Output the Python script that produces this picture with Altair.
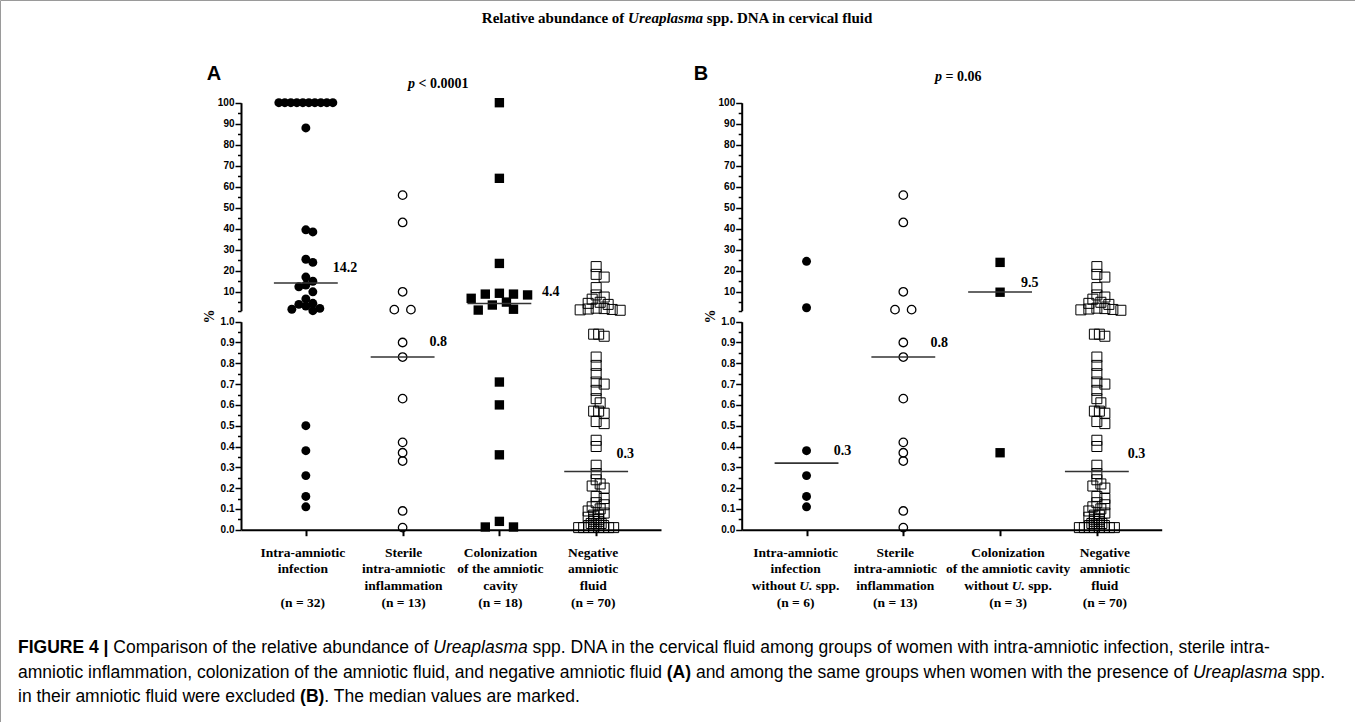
import altair as alt
import pandas as pd

W, H = 1355, 722

# ---------------- data ----------------
A_INFECTION = [100] * 10 + [88, 39.5, 38.5, 25.5, 24, 17, 15, 13.2, 12.4, 10, 6.6,
                            4.5, 4.0, 3.2, 2.1, 1.7, 1.0, 0.5, 0.38, 0.26, 0.16, 0.11]
STERILE = [56, 43, 10, 1.5, 1.5, 0.9, 0.83, 0.63, 0.42, 0.37, 0.33, 0.09, 0.01]
A_COLONIZATION = [100, 64, 23.5, 9.3, 8.9, 8.9, 8.5, 6.9, 5.1, 3.7, 1.7, 1.3,
                  0.71, 0.6, 0.36, 0.04, 0.013, 0.013]
NEGATIVE_UPPER = [22, 18.3, 17, 12, 8.5, 7.5, 6.5, 5, 4.5, 4, 2.2, 2, 1.8, 1.6, 1.4, 1.2]
NEGATIVE_MID = [0.94, 0.94, 0.93, 0.83, 0.79, 0.75, 0.71, 0.70, 0.67, 0.63, 0.61,
                0.57, 0.57, 0.56, 0.52, 0.51, 0.43, 0.40, 0.31]
NEGATIVE_LOW = [0.27, 0.24, 0.22, 0.21, 0.20, 0.16, 0.15, 0.13, 0.12, 0.11, 0.10,
                0.09, 0.08, 0.07, 0.07, 0.06, 0.05, 0.05, 0.04, 0.04, 0.03, 0.03,
                0.03, 0.02, 0.02, 0.02, 0.02, 0.01, 0.01, 0.01, 0.01, 0.01, 0.01,
                0.01, 0.01]
NEGATIVE = NEGATIVE_UPPER + NEGATIVE_MID + NEGATIVE_LOW
B_INFECTION = [24.5, 2.4, 0.38, 0.26, 0.16, 0.11]
B_COLONIZATION = [24, 9.8, 0.37]

A_GROUPS = [A_INFECTION, STERILE, A_COLONIZATION, NEGATIVE]
B_GROUPS = [B_INFECTION, STERILE, B_COLONIZATION, NEGATIVE]

A_MEDIANS = [14.2, 0.83, 4.4, 0.28]
A_MEDIAN_LABELS = ["14.2", "0.8", "4.4", "0.3"]
B_MEDIANS = [0.32, 0.83, 9.9, 0.28]
B_MEDIAN_LABELS = ["0.3", "0.8", "9.5", "0.3"]

A_LABELS = [["Intra-amniotic", "infection", "", "(n = 32)"],
            ["Sterile", "intra-amniotic", "inflammation", "(n = 13)"],
            ["Colonization", "of the amniotic", "cavity", "(n = 18)"],
            ["Negative", "amniotic", "fluid", "(n = 70)"]]
B_LABELS = [["Intra-amniotic", "infection", "without U. spp.", "(n = 6)"],
            ["Sterile", "intra-amniotic", "inflammation", "(n = 13)"],
            ["Colonization", "of the amniotic cavity", "without U. spp.", "(n = 3)"],
            ["Negative", "amniotic", "fluid", "(n = 70)"]]

TITLE_PIECES = [("Relative abundance of ", "b"), ("Ureaplasma", "bi"),
                (" spp. DNA in cervical fluid", "b")]
CAPTION_LINES = [
    [("FIGURE 4 |", "b"), (" Comparison of the relative abundance of ", "r"), ("Ureaplasma", "i"),
     (" spp. DNA in the cervical fluid among groups of women with intra-amniotic infection, sterile intra-", "r")],
    [("amniotic inflammation, colonization of the amniotic fluid, and negative amniotic fluid ", "r"),
     ("(A)", "b"), (" and among the same groups when women with the presence of ", "r"),
     ("Ureaplasma", "i"), (" spp.", "r")],
    [("in their amniotic fluid were excluded ", "r"), ("(B)", "b"),
     (". The median values are marked.", "r")],
]

# ---------------- layout / style ----------------
SERIF = "Liberation Serif"
SANS = "Liberation Sans"
X_DOMAIN = [-0.67, 3.67]
PANEL_X = {"A": [241.0, 661.0], "B": [741.7, 1161.7]}
UP_RANGE = [310.7, 102.7]   # pixel of 1 and 100
LO_RANGE = [529.7, 321.7]   # pixel of 0 and 1
PPU = (PANEL_X["A"][1] - PANEL_X["A"][0]) / (X_DOMAIN[1] - X_DOMAIN[0])
# marker styles + swarm spacing (step, collision distance, identical-row cap; in diameters)
STYLES = [dict(shape="circle", filled=True, size=80, d=10.0, sw=0, step=0.7, thr=0.7, cap=1.2),
          dict(shape="circle", filled=False, size=72, d=9.5, sw=1.3, step=0.8, thr=0.8, cap=1.75),
          dict(shape="square", filled=True, size=88, d=9.4, sw=0, step=0.75, thr=1.05, cap=3.0),
          dict(shape="square", filled=False, size=100, d=10.0, sw=1.0, step=0.4, thr=0.55, cap=0.5)]
MEDIAN_LABEL_DX = {"A": [27, 27, 42.7, 20.3], "B": [27.3, 27.3, 21, 31]}
MEDIAN_LABEL_DY = {"A": [-14.7, -14.7, -11.6, -17], "B": [-12.4, -14.3, -9, -17]}
CAT_LABEL_SHIFT = {"A": [-3, 1, 1, -3], "B": [-11, -8, 8, 8]}

# font metrics (Times / Arial compatible) for mixed-style text runs
TB = {' ': 250, '.': 250, '-': 333, '(': 333, ')': 333, '=': 570, '<': 570,
      'A': 722, 'C': 722, 'D': 722, 'I': 389, 'N': 722, 'R': 722, 'S': 556, 'U': 722}
TB.update({c: 500 for c in "0123456789"})
TB.update(dict(zip("abcdefghijklmnopqrstuvwxyz",
                   [500, 556, 444, 556, 444, 333, 500, 556, 278, 333, 556, 278, 833,
                    556, 500, 556, 556, 444, 389, 333, 556, 500, 722, 500, 500, 444])))
TBI = dict(TB)
TBI.update({'U': 722, '.': 250, 'p': 500, 'r': 389, 'e': 444, 'a': 500, 'l': 278,
            's': 389, 'm': 778})
AR = {' ': 278, ',': 278, '-': 333, '.': 278, '(': 333, ')': 333, '|': 260,
      'A': 667, 'B': 667, 'C': 722, 'D': 722, 'E': 667, 'F': 611, 'G': 778, 'I': 278,
      'N': 722, 'R': 722, 'T': 611, 'U': 722}
AR.update({c: 556 for c in "0123456789"})
AR.update(dict(zip("abcdefghijklmnopqrstuvwxyz",
                   [556, 556, 500, 556, 556, 278, 556, 556, 222, 222, 500, 222, 833,
                    556, 556, 556, 556, 333, 500, 278, 556, 500, 722, 500, 500, 500])))
ARB = dict(AR)
ARB.update({'|': 280, 'A': 722, 'B': 722, 'F': 611, 'G': 778, 'I': 278, 'R': 722,
            'U': 722, 'E': 667, '(': 333, ')': 333})
CAPTION_SIZE = 17.5


def text_width(s, table, size):
    return sum(table.get(c, 500) for c in s) * size / 1000.0


def layout_runs(pieces, tables, size, x0):
    out = []
    x = x0
    for txt, sty in pieces:
        tab = tables[sty]
        lead = len(txt) - len(txt.lstrip(' '))
        x += text_width(' ' * lead, tab, size)
        core = txt.strip(' ')
        out.append((x, core, sty))
        x += text_width(core, tab, size)
        trail = len(txt) - len(txt.rstrip(' '))
        x += text_width(' ' * trail, tab, size)
    return out, x - x0


def to_px(v):
    if v >= 1:
        return UP_RANGE[0] + (v - 1) * (UP_RANGE[1] - UP_RANGE[0]) / 99.0
    return LO_RANGE[0] + v * (LO_RANGE[1] - LO_RANGE[0])


def swarm(values, st):
    d = st["d"]
    maxw = 64.0
    offs = [0.0] * len(values)
    placed = []
    same = {}
    for i, v in enumerate(values):
        same.setdefault(v, []).append(i)
    for v, idxs in same.items():
        n = len(idxs)
        if n > 1:
            sp = min(st["cap"] * d, (maxw - d) / (n - 1))
            for k, i in enumerate(idxs):
                offs[i] = (k - (n - 1) / 2.0) * sp
                placed.append((offs[i], to_px(v)))
    step, thr = st["step"] * d, st["thr"] * d
    cands = [0.0]
    for j in range(1, 40):
        cands += [j * step, -j * step]
    for i in sorted(range(len(values)), key=lambda k: -values[k]):
        v = values[i]
        if len(same[v]) > 1:
            continue
        y = to_px(v)
        xx = 0.0
        for xx in cands:
            if all((xx - px) ** 2 + (y - py) ** 2 >= thr * thr for px, py in placed):
                break
        offs[i] = xx
        placed.append((xx, y))
    return offs


def points_frame(groups):
    rows = []
    for g, vals in enumerate(groups):
        offs = swarm(vals, STYLES[g])
        for v, o in zip(vals, offs):
            rows.append({"g": g, "v": v, "xp": g + o / PPU, "seg": "up" if v >= 1 else "lo"})
    return pd.DataFrame(rows)


def y_axis(seg, x0):
    common = dict(orient="left", offset=-x0, grid=False, title=None, domainColor="black",
                  domainWidth=2, tickColor="black", tickWidth=1.5, labelFont=SANS,
                  labelFontWeight="bold", labelFontSize=10, labelColor="black",
                  labelPadding=1, labelOverlap=False, labelFlush=False)
    if seg == "up":
        return alt.Axis(values=[1] + list(range(5, 101, 5)),
                        labelExpr="datum.value % 10 === 0 ? datum.label : ''",
                        tickSize={"condition": {"test": "datum.value % 10 === 0", "value": 6},
                                  "value": 3.5}, **common)
    return alt.Axis(values=[round(i * 0.05, 2) for i in range(21)],
                    labelExpr="round(datum.value*100) % 10 === 0 ? format(datum.value, '.1f') : ''",
                    tickSize={"condition": {"test": "round(datum.value*100) % 10 === 0", "value": 6},
                              "value": 3.5}, **common)


def segment(panel, seg, pts, medians, mlabels):
    xr = PANEL_X[panel]
    xs = alt.Scale(domain=X_DOMAIN, range=xr, nice=False, zero=False)
    yr = UP_RANGE if seg == "up" else LO_RANGE
    ys = alt.Scale(domain=[1, 100] if seg == "up" else [0, 1], range=yr, nice=False, zero=False)
    yax = y_axis(seg, xr[0])
    if seg == "lo":
        xax = alt.Axis(orient="bottom", offset=-(H - LO_RANGE[0]), values=[0, 1, 2, 3],
                       labels=False, tickSize=6, tickWidth=2, domainWidth=2,
                       domainColor="black", tickColor="black", grid=False, title=None)
    else:
        xax = None
    layers = []
    sub_all = pts[pts.seg == seg]
    for g, st in enumerate(STYLES):
        sub = sub_all[sub_all.g == g]
        if len(sub) == 0:
            continue
        mk = dict(shape=st["shape"], filled=st["filled"], size=st["size"], color="black",
                  opacity=1)
        if not st["filled"]:
            mk["strokeWidth"] = st["sw"]
        layers.append(alt.Chart(sub).mark_point(**mk).encode(
            x=alt.X("xp:Q", scale=xs, axis=xax),
            y=alt.Y("v:Q", scale=ys, axis=yax)))
    med = pd.DataFrame({"i": list(range(4)), "m": medians, "lab": mlabels})
    med = med[(med.m >= 1) if seg == "up" else (med.m < 1)]
    if len(med):
        base = alt.Chart(med).transform_calculate(x1="datum.i - 0.33", x2="datum.i + 0.33")
        layers.append(base.mark_rule(color="#333333", strokeWidth=1.6).encode(
            x=alt.X("x1:Q", scale=xs, axis=xax), x2="x2:Q",
            y=alt.Y("m:Q", scale=ys, axis=yax)))
        for i in med.i:
            one = med[med.i == i]
            layers.append(alt.Chart(one).mark_text(
                align="left", baseline="middle", dx=MEDIAN_LABEL_DX[panel][i],
                dy=MEDIAN_LABEL_DY[panel][i], font=SERIF, fontWeight="bold",
                fontSize=14, color="black").encode(
                x=alt.X("i:Q", scale=xs, axis=xax), y=alt.Y("m:Q", scale=ys, axis=yax),
                text="lab:N"))
    return alt.layer(*layers)


def category_labels(panel, labels):
    xs = alt.Scale(domain=X_DOMAIN, range=PANEL_X[panel], nice=False, zero=False)
    ys = alt.Scale(domain=[0, 3], range=[552.5, 602.5], nice=False, zero=False)
    tk = dict(baseline="middle", font=SERIF, fontWeight="bold", fontSize=13.5, color="black")
    layers = []
    runs, total = layout_runs([("without ", "b"), ("U.", "bi"), (" spp.", "b")],
                              {"b": TB, "bi": TBI}, 13.5, 0.0)
    for i, lines in enumerate(labels):
        shift = CAT_LABEL_SHIFT[panel][i]
        plain, special = [], []
        for ln, t in enumerate(lines):
            if not t:
                continue
            if "U." in t:
                special.append({"i": i, "line": ln})
            else:
                plain.append({"i": i, "line": ln, "t": t})
        enc = dict(x=alt.X("i:Q", scale=xs, axis=None), y=alt.Y("line:Q", scale=ys, axis=None))
        layers.append(alt.Chart(pd.DataFrame(plain)).mark_text(
            align="center", dx=shift, **tk).encode(text="t:N", **enc))
        if special:
            sp = pd.DataFrame(special)
            for x, core, sty in runs:
                kw = dict(tk)
                if sty == "bi":
                    kw["fontStyle"] = "italic"
                layers.append(alt.Chart(sp).transform_calculate(t=repr(core)).mark_text(
                    align="left", dx=x - total / 2.0 + shift, **kw).encode(text="t:N", **enc))
    return alt.layer(*layers)


def runs_layer(rows, size, font, weight="normal", style="normal", align="left", angle=0):
    df = pd.DataFrame(rows, columns=["x", "y", "t"])
    kw = dict(align=align, baseline="middle", font=font, fontSize=size, fontWeight=weight,
              fontStyle=style, color="black")
    if angle:
        kw["angle"] = angle
    return alt.Chart(df).mark_text(**kw).encode(
        x=alt.X("x:Q", scale=None), y=alt.Y("y:Q", scale=None), text="t:N")


# ---------------- annotations ----------------
ann = []
t_runs, t_total = layout_runs(TITLE_PIECES, {"b": TB, "bi": TBI}, 15, 0.0)
t_x0 = W / 2.0 - t_total / 2.0
ann.append(runs_layer([(t_x0 + x, 18, c) for x, c, s in t_runs if s == "b"], 15, SERIF, "bold"))
ann.append(runs_layer([(t_x0 + x, 18, c) for x, c, s in t_runs if s == "bi"], 15, SERIF,
                      "bold", "italic"))
CAP_Y = [648, 672.5, 697]
cap_rows = {"r": [], "b": [], "i": []}
for line, y in zip(CAPTION_LINES, CAP_Y):
    runs, _ = layout_runs(line, {"r": AR, "b": ARB, "i": AR}, CAPTION_SIZE, 18.0)
    for x, c, s in runs:
        cap_rows[s].append((x, y, c))
ann.append(runs_layer(cap_rows["r"], CAPTION_SIZE, SANS))
ann.append(runs_layer(cap_rows["b"], CAPTION_SIZE, SANS, "bold"))
ann.append(runs_layer(cap_rows["i"], CAPTION_SIZE, SANS, "normal", "italic"))
ann.append(runs_layer([(214, 74, "A"), (701, 74, "B")], 20, SANS, "bold", align="center"))
ann.append(runs_layer([(408, 84, "p"), (935, 77, "p")], 14, SERIF, "bold", "italic"))
ann.append(runs_layer([(418.5, 84, "< 0.0001"), (945.5, 77, "= 0.06")], 14, SERIF, "bold"))
ann.append(runs_layer([(210, 316.5, "%"), (710.7, 316.5, "%")], 14, SERIF, "bold",
                      align="center", angle=270))

# ---------------- assemble ----------------
pa = points_frame(A_GROUPS)
pb = points_frame(B_GROUPS)
parts = [
    segment("A", "up", pa, A_MEDIANS, A_MEDIAN_LABELS),
    segment("A", "lo", pa, A_MEDIANS, A_MEDIAN_LABELS),
    category_labels("A", A_LABELS),
    segment("B", "up", pb, B_MEDIANS, B_MEDIAN_LABELS),
    segment("B", "lo", pb, B_MEDIANS, B_MEDIAN_LABELS),
    category_labels("B", B_LABELS),
] + ann

chart = alt.layer(*parts).resolve_scale(x="independent", y="independent").properties(
    width=W, height=H, padding=0, background="white",
    autosize=alt.AutoSizeParams(type="none"),
).configure_view(stroke="#9a9a9a", strokeWidth=1)

chart.save("out.html", embed_options={"renderer": "svg", "actions": False})
